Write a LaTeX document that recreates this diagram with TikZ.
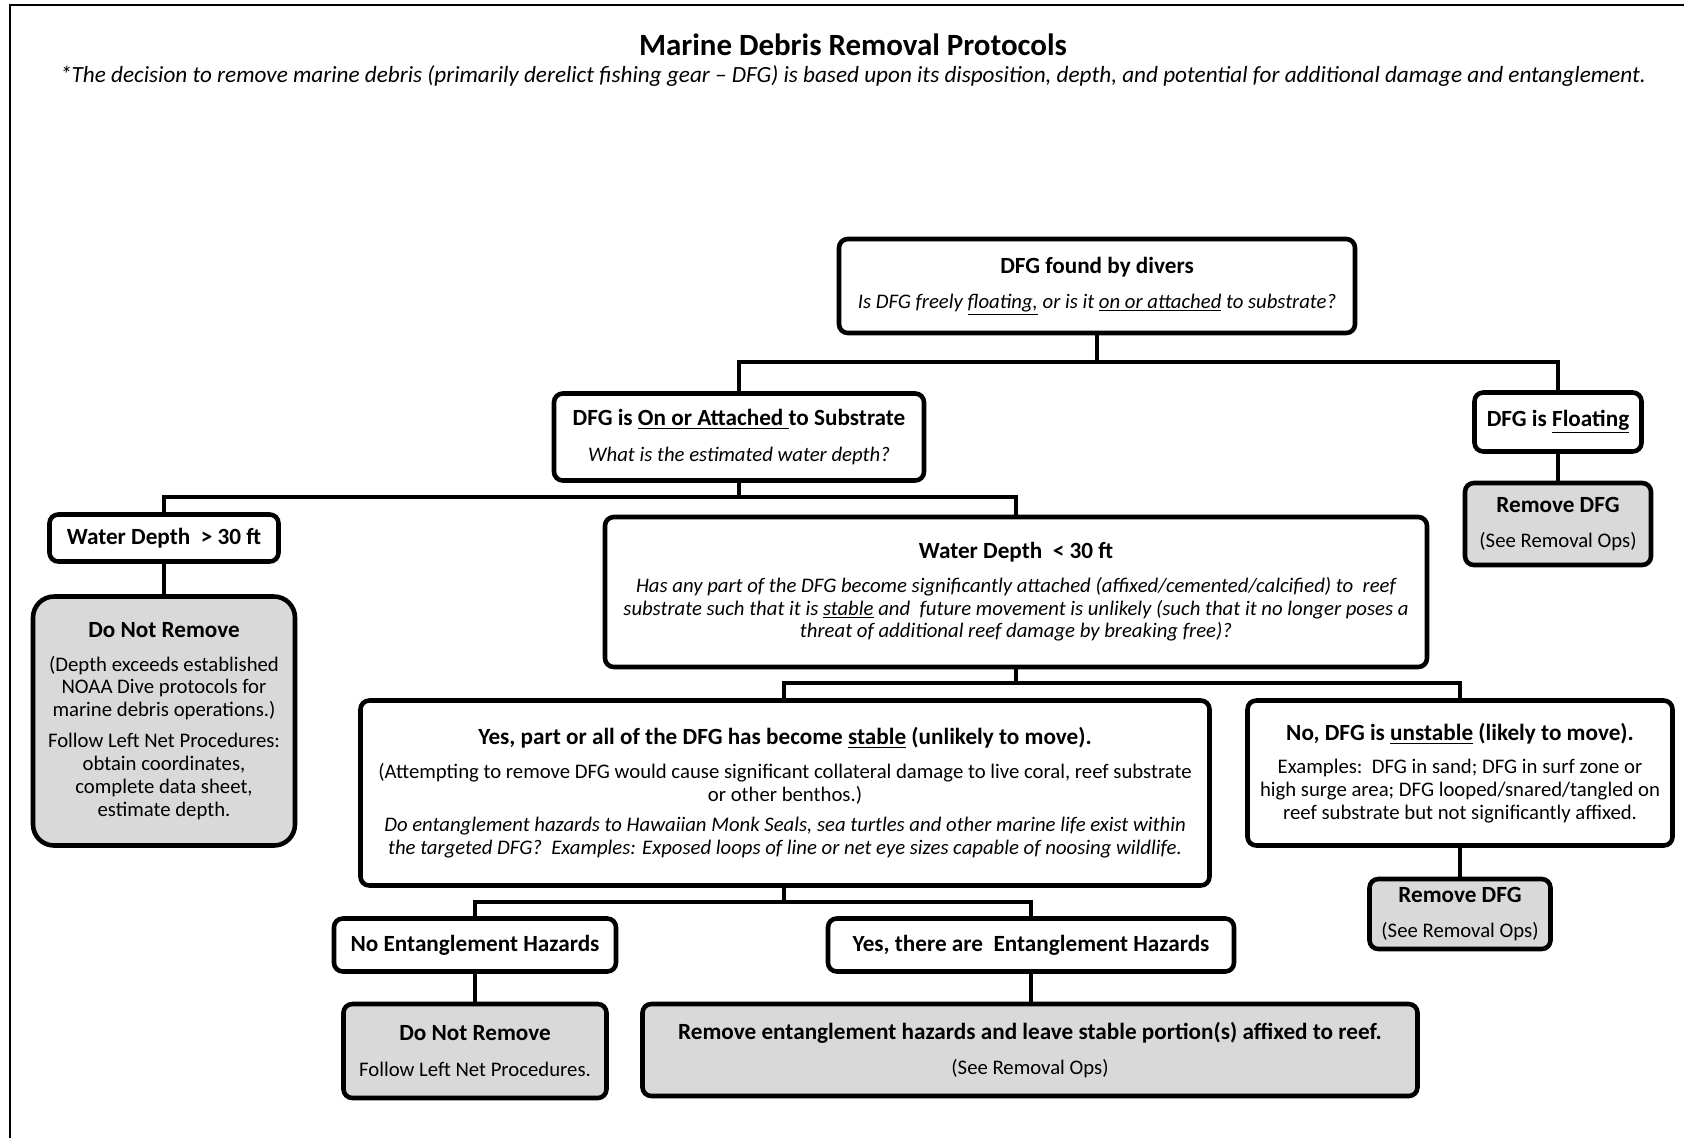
\documentclass[tikz,border=0pt]{standalone}
\usepackage{fontspec}
\setmainfont{Carlito}
\newcommand{\bodyfont}{\fontsize{11.8}{13}\selectfont}
\newcommand{\headfont}{\fontsize{13.2}{14}\selectfont\bfseries}
\newcommand{\askfont}{\fontsize{11.8}{13}\selectfont\itshape}
\tikzset{
every picture/.style={line width=2.2pt},
%%%%%%%%%%  Node styles
box/.style={draw, line width=2.6pt, rounded corners=5pt, fill=white,
            align=center, inner sep=0pt, font=\bodyfont},
endbox/.style={box, fill=black!15},
bigend/.style={endbox, rounded corners=12pt},
dims/.style 2 args={minimum width=#1*0.2mm, minimum height=#2*0.2mm},
%%%% different line styles:
link/.style={line width=2.2pt},
frame/.style={line width=1.4pt}
}

\begin{document}
\begin{tikzpicture}[x=0.2mm, y=-0.2mm]
\useasboundingbox (0,0) rectangle (1684,1138);
\draw[frame] (10,1138) -- (10,5) -- (1684,5);
\node (title) at (853,45) {\fontsize{17.6}{20}\selectfont\bfseries Marine Debris Removal Protocols};
\node (note) at (853,76) {\fontsize{13.2}{15}\selectfont\itshape *The decision to remove marine debris (primarily derelict fishing gear -- DFG) is based upon its disposition, depth, and potential for additional damage and entanglement.};
%%%%%%% first question
\node[box, dims={516}{94}] (found) at (1097,286)
  {{\headfont DFG found by divers}\\[7pt]
   {\askfont Is DFG freely \underline{floating,} or is it \underline{on or attached} to substrate?}};
\node[box, dims={370}{87}] (attached) at (739,437)
  {{\headfont DFG is \underline{On or Attached\ }to Substrate}\\[7pt]
   {\askfont What is the estimated water depth?}};
\node[box, dims={167}{59}] (floating) at (1558,422) {\headfont DFG is \underline{Floating}};
\node[endbox, dims={186}{82}] (removeA) at (1558,524)
  {{\headfont Remove DFG}\\[7pt](See Removal Ops)};
%%%%%%% depth
\node[box, dims={229}{47}] (deep) at (164,538) {\headfont Water Depth~~> 30 ft};
\node[bigend, dims={262}{249}] (dnrA) at (164,721)
  {{\headfont Do Not Remove}\\[6pt]
   (Depth exceeds established\\ NOAA Dive protocols for\\ marine debris operations.)\\[4.5pt]
   Follow Left Net Procedures:\\ obtain coordinates,\\ complete data sheet,\\ estimate depth.};
\node[box, dims={822}{150}] (shallow) at (1016,592)
  {{\headfont Water Depth~~< 30 ft}\\[6pt]
   {\askfont Has any part of the DFG become significantly attached (affixed/cemented/calcified) to~~reef}\\
   {\askfont substrate such that it is \underline{stable} and~~future movement is unlikely (such that it no longer poses a}\\
   {\askfont threat of additional reef damage by breaking free)?}};
%%%%%%% stable or not
\node[box, dims={849}{185}] (stable) at (785,793)
  {{\headfont Yes, part or all of the DFG has become \underline{stable} (unlikely to move).}\\[6pt]
   (Attempting to remove DFG would cause significant collateral damage to live coral, reef substrate\\
   or other benthos.)\\[4.5pt]
   {\askfont Do entanglement hazards to Hawaiian Monk Seals, sea turtles and other marine life exist within}\\
   {\askfont the targeted DFG?~~Examples: Exposed loops of line or net eye sizes capable of noosing wildlife.}};
\node[box, dims={425}{145}] (unstable) at (1460,773)
  {{\headfont No, DFG is \underline{unstable} (likely to move).}\\[6pt]
   Examples:~~DFG in sand; DFG in surf zone or\\
   high surge area; DFG looped/snared/tangled on\\
   reef substrate but not significantly affixed.};
\node[endbox, dims={181}{70}] (removeB) at (1460,914)
  {{\headfont Remove DFG}\\[7pt](See Removal Ops)};
%%%%%%% entanglement
\node[box, dims={282}{53}] (nohaz) at (475,945) {\headfont No Entanglement Hazards};
\node[box, dims={406}{53}] (yeshaz) at (1031,945) {\headfont Yes, there are~~Entanglement Hazards};
\node[endbox, dims={263}{94}] (dnrB) at (475,1051)
  {{\headfont Do Not Remove}\\[7pt]Follow Left Net Procedures.};
\node[endbox, dims={775}{92}] (removeC) at (1030,1050)
  {{\headfont Remove entanglement hazards and leave stable portion(s) affixed to reef.}\\[7pt](See Removal Ops)};
%%%%%%% connectors
\coordinate (j1) at (1097,362);
\coordinate (j2) at (739,497);
\coordinate (j3) at (1016,683);
\coordinate (j4) at (784,902);
\draw[link] (found.south) -- (found.south |- j1);
\draw[link] (attached.north) |- (j1) -| (floating.north);
\draw[link] (attached.south) -- (attached.south |- j2);
\draw[link] (deep.north) |- (j2) -| (shallow.north);
\draw[link] (shallow.south) -- (shallow.south |- j3);
\draw[link] (stable.north -| j4) |- (j3) -| (unstable.north);
\draw[link] (stable.south -| j4) -- (j4);
\draw[link] (nohaz.north) |- (j4) -| (yeshaz.north);
\draw[link] (floating) -- (removeA);
\draw[link] (deep) -- (dnrA);
\draw[link] (unstable) -- (removeB);
\draw[link] (nohaz) -- (dnrB);
\draw[link] (yeshaz.south) -- (yeshaz.south |- removeC.north);
\end{tikzpicture}
\end{document}
